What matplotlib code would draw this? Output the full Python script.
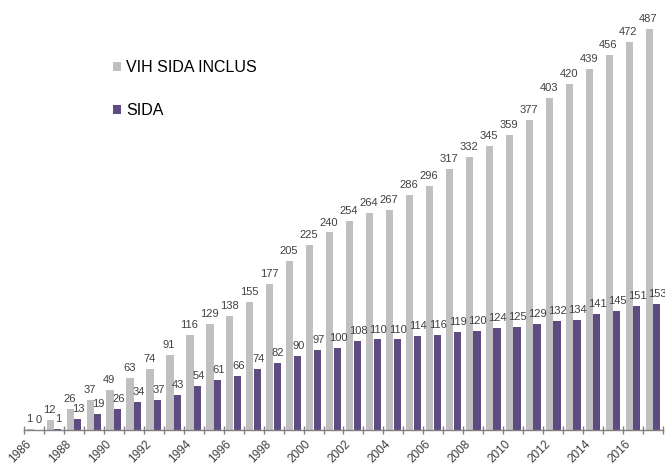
import matplotlib
matplotlib.use("Agg")
import matplotlib.pyplot as plt
import numpy as np

years = list(range(1986, 2018))
vih_sida = [1, 12, 26, 37, 49, 63, 74, 91, 116, 129, 138, 155, 177, 205, 225, 240,
            254, 264, 267, 286, 296, 317, 332, 345, 359, 377, 403, 420, 439, 456, 472, 487]
sida = [0, 1, 13, 19, 26, 34, 37, 43, 54, 61, 66, 74, 82, 90, 97, 100,
        108, 110, 110, 114, 116, 119, 120, 124, 125, 129, 132, 134, 141, 145, 151, 153]
labels_series = ["VIH SIDA INCLUS", "SIDA"]

gray = "#C0C0C0"
purple = "#5E4B80"
txt = "#404040"

plt.rcParams['font.family'] = ['Liberation Sans', 'DejaVu Sans']

fig = plt.figure(figsize=(6.65, 4.68), dpi=100)
ax = fig.add_axes([24/665, 38/468, 1 - 26/665, (430 - 18.5)/468])

x = np.arange(len(years))
w = 0.36
b1 = ax.bar(x - w/2 - 0.01, vih_sida, width=w, color=gray, label=labels_series[0])
b2 = ax.bar(x + w/2 + 0.01, sida, width=w, color=purple, label=labels_series[1])

for xi, v in zip(x, vih_sida):
    ax.text(xi - w/2 - 0.05, v + 6, str(v), ha='center', va='bottom', fontsize=8, color=txt)
for xi, v in zip(x, sida):
    ax.text(xi + w/2 + 0.05, v + 6, str(v), ha='center', va='bottom', fontsize=8, color=txt)

ax.set_xlim(-0.5, len(years) - 0.5)
ax.set_ylim(0, 500)

for s in ['top', 'right', 'left']:
    ax.spines[s].set_visible(False)
ax.spines['bottom'].set_color('#808080')
ax.spines['bottom'].set_linewidth(1.0)
ax.set_yticks([])

ax.set_xticks(x[::2])
ax.set_xticklabels([str(y) for y in years[::2]], rotation=45, ha='right', fontsize=8.5, color=txt)
ax.tick_params(axis='x', which='major', length=0, pad=6)
ax.set_xticks(np.arange(-0.5, len(years), 1.0), minor=True)
ax.tick_params(axis='x', which='minor', length=6, direction='inout', color='#808080', width=1)

ax.legend(handles=[b1, b2], loc='upper left', bbox_to_anchor=((107 - 24)/639, 1 - (54 - 18.5)/411.5),
          frameon=False, fontsize=11.5, handlelength=0.5, handleheight=0.5, handletextpad=0.3,
          labelspacing=1.75, borderaxespad=0)

fig.savefig("out.png", dpi=100)
